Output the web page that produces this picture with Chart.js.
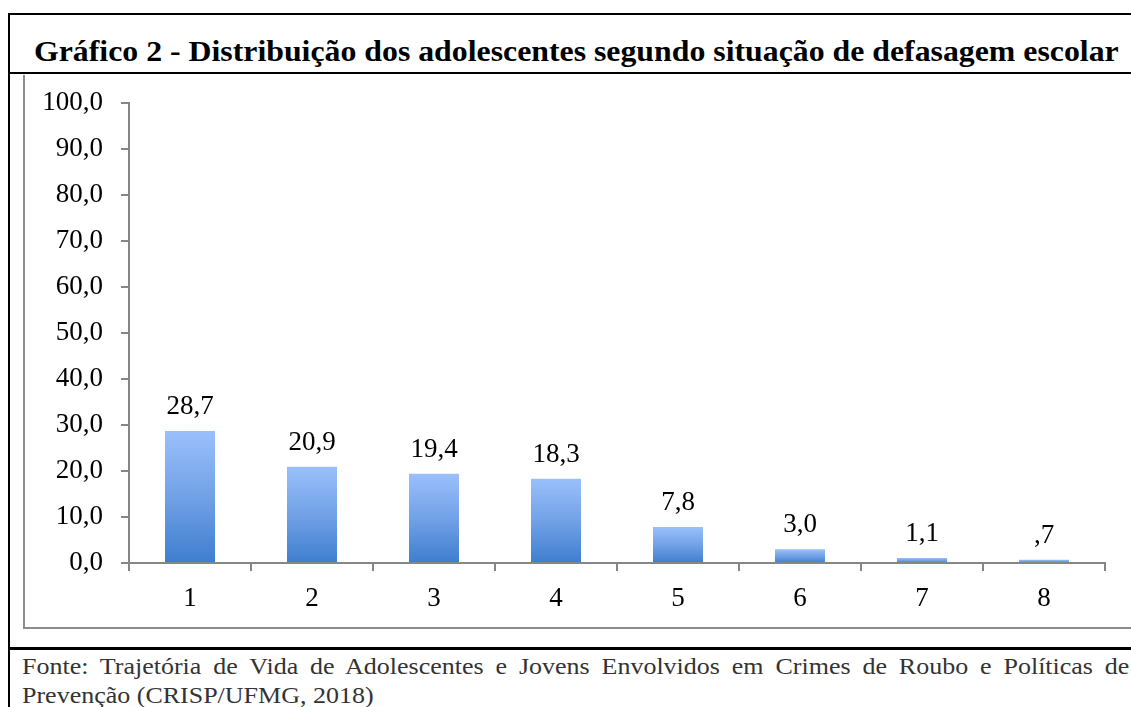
<!DOCTYPE html>
<html>
<head>
<meta charset="utf-8">
<script src="https://cdn.jsdelivr.net/npm/chart.js@4.4.1/dist/chart.umd.min.js"></script>
<style>
  html, body { margin: 0; padding: 0; background: #fff; overflow: hidden; }
  body { width: 1131px; height: 707px; position: relative; }
  .box { position: absolute; left: 8px; top: 13px; width: 1200px; height: 720px; border-left: 2px solid #000; border-top: 2px solid #000; }
  .title { position: absolute; left: 34px; top: 34px; font: bold 30px "Liberation Serif", serif; line-height: 34px; color: #000; white-space: nowrap; transform: scaleX(1.06); transform-origin: 0 0; }
  .rule { position: absolute; left: 8px; width: 1200px; height: 2px; background: #000; }
  .frame { position: absolute; left: 23px; top: 75px; width: 1200px; height: 552px; border-left: 2px solid #8c8c8c; border-bottom: 2px solid #8c8c8c; }
  .wrap { position: absolute; left: 23px; top: 75px; width: 1108px; height: 553px; }
  .src { position: absolute; left: 22px; top: 652px; width: 980px; font: 23px "Liberation Serif", serif; color: #333; line-height: 29px; transform: scaleX(1.13); transform-origin: 0 0; }
  .src .l1 { text-align: justify; text-align-last: justify; white-space: nowrap; }
</style>
</head>
<body>
<div class="box"></div>
<div class="rule" style="top:72px"></div>
<div class="title">Gráfico 2 - Distribuição dos adolescentes segundo situação de defasagem escolar</div>
<div class="frame"></div>
<div class="wrap"><canvas id="chart"></canvas></div>
<div class="rule" style="top:647px;height:3px"></div>
<div class="src">
  <div class="l1">Fonte: Trajetória de Vida de Adolescentes e Jovens Envolvidos em Crimes de Roubo e Políticas de</div>
  <div>Prevenção (CRISP/UFMG, 2018)</div>
</div>
<script>
const categories = ['1', '2', '3', '4', '5', '6', '7', '8']
const values = [28.7, 20.9, 19.4, 18.3, 7.8, 3.0, 1.1, 0.7]
const yTicks = [0, 10, 20, 30, 40, 50, 60, 70, 80, 90, 100]

const tickFont = { family: 'Liberation Serif', size: 27 }

// 28.7 -> "28,7", 0.7 -> ",7"
function fmt(v) {
  const s = v.toFixed(1).replace('.', ',')
  return s.startsWith('0,') && v !== 0 ? s.slice(1) : s
}

const valueLabels = {
  id: 'valueLabels',
  afterDatasetsDraw: chart => {
    const ctx = chart.ctx
    const meta = chart.getDatasetMeta(0)
    ctx.save()
    ctx.font = '27px "Liberation Serif"'
    ctx.fillStyle = '#000'
    ctx.textAlign = 'center'
    ctx.textBaseline = 'alphabetic'
    meta.data.forEach((bar, i) => {
      ctx.fillText(fmt(values[i]), bar.x, bar.y - 17)
    })
    ctx.restore()
  }
}

new Chart(document.getElementById('chart'), {
  type: 'bar',
  data: {
    labels: categories,
    datasets: [{
      data: values,
      backgroundColor: c => {
        const chart = c.chart
        const y = chart.scales.y
        if (!y || c.dataIndex === undefined) return '#6a9de6'
        const top = y.getPixelForValue(values[c.dataIndex])
        const bottom = y.getPixelForValue(0)
        if (!isFinite(top) || bottom - top < 1) return '#97bdf8'
        const g = chart.ctx.createLinearGradient(0, top, 0, bottom)
        g.addColorStop(0, '#99c0fb')
        g.addColorStop(0.5, '#72a1e6')
        g.addColorStop(1, '#3e7ecf')
        return g
      },
      borderWidth: 0,
      barPercentage: 0.82,
      categoryPercentage: 0.5
    }]
  },
  options: {
    responsive: true,
    maintainAspectRatio: false,
    animation: false,
    layout: { padding: { top: 28, right: 26, left: 0, bottom: 0 } },
    plugins: { legend: { display: false }, tooltip: { enabled: false } },
    scales: {
      x: {
        offset: true,
        grid: { offset: true, drawOnChartArea: false, drawTicks: true, tickLength: 8, color: '#868686', lineWidth: 2 },
        border: { color: '#868686', width: 2 },
        ticks: { font: tickFont, color: '#000', padding: 12 },
        afterFit: s => { s.height = 65; s.paddingLeft = 0; s.paddingRight = 0 }
      },
      y: {
        min: 0,
        max: 100,
        afterBuildTicks: s => { s.ticks = yTicks.map(v => ({ value: v })) },
        grid: { drawOnChartArea: false, drawTicks: true, tickLength: 8, color: '#868686', lineWidth: 2 },
        border: { color: '#868686', width: 2 },
        ticks: { font: tickFont, color: '#000', padding: 18, callback: v => v.toFixed(1).replace('.', ',') },
        afterFit: s => { s.width = 106; s.paddingTop = 0; s.paddingBottom = 0 }
      }
    }
  },
  plugins: [valueLabels]
})
</script>
</body>
</html>
